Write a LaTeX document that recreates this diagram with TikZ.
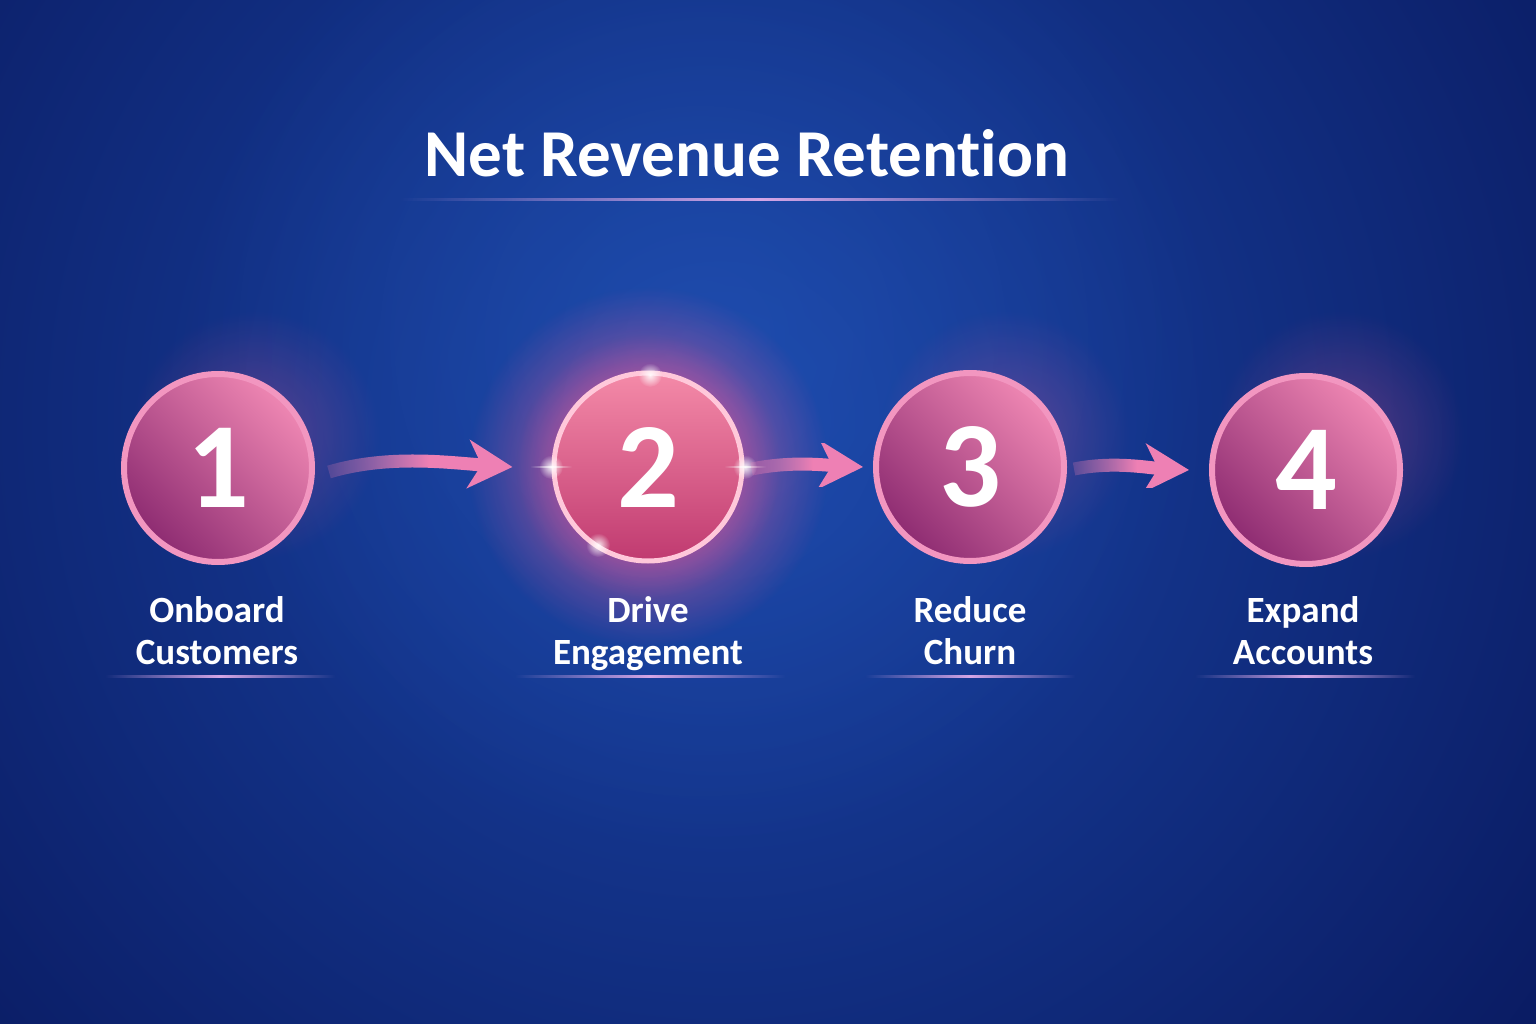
\documentclass[tikz,border=0pt]{standalone}
\usepackage{fontspec}
\setmainfont{Carlito}[Ligatures=NoCommon]
\usetikzlibrary{arrows.meta,fadings,shadings}
\definecolor{bgdark}{HTML}{08165A}
\definecolor{bgmid}{HTML}{1A45A6}
\definecolor{bgbright}{HTML}{2558BC}
\definecolor{balltop}{HTML}{EE86B2}
\definecolor{ballbot}{HTML}{8E2C72}
\definecolor{rim}{HTML}{F296C0}
\definecolor{hottop}{HTML}{F48AA8}
\definecolor{hotbot}{HTML}{C03A70}
\definecolor{hotrim}{HTML}{FFC8DA}
\definecolor{glowpink}{HTML}{FF5C9A}
\definecolor{arrowpink}{HTML}{EE80B4}
\definecolor{lilac}{HTML}{D6A6E6}
\tikzfading[name=softglow, inner color=transparent!0, outer color=transparent!100]
\tikzfading[name=fadesides, left color=transparent!100, right color=transparent!100, middle color=transparent!0]
\pgfdeclarehorizontalshading{tailshade}{100bp}{color(0bp)=(transparent!85); color(25bp)=(transparent!85); color(52bp)=(transparent!0); color(100bp)=(transparent!0)}
\pgfdeclarefading{fadetail}{\pgfuseshading{tailshade}}
\begin{document}
\begin{tikzpicture}[x=1pt,y=-1pt,
  ball/.style={circle, minimum size=188pt, inner sep=0pt, draw=rim, line width=6pt,
    top color=balltop, bottom color=ballbot, shading angle=-45, text=white,
    font=\fontsize{122}{122}\selectfont\bfseries},
  hotball/.style={ball, draw=hotrim, line width=5pt, top color=hottop, bottom color=hotbot},
  flow/.style={line width=13pt, draw=arrowpink, path fading=fadetail,
    -{Stealth[length=44pt, width=48pt, inset=13pt]}},
  steplabel/.style={text=white, font=\fontsize{37}{42}\selectfont\bfseries, align=center, anchor=base},
  titlestyle/.style={text=white, font=\fontsize{67}{80}\selectfont\bfseries, anchor=base},
  rule/.style={lilac, path fading=fadesides}
]
\useasboundingbox (0,0) rectangle (1536,1024);
\fill[bgdark] (0,0) rectangle (1536,1024);
\begin{scope}
  \clip (0,0) rectangle (1536,1024);
  \shade[inner color=bgmid, outer color=bgdark] (720,420) circle (1150);
  \fill[bgbright, opacity=0.45, path fading=softglow] (700,340) circle (520);
  % glows
  \fill[glowpink, opacity=0.85, path fading=softglow] (648,467) circle (180);
  \fill[glowpink, opacity=0.7, path fading=softglow] (648,467) circle (132);
  \fill[glowpink, opacity=0.3, path fading=softglow] (255,435) circle (125);
  \fill[glowpink, opacity=0.3, path fading=softglow] (1005,435) circle (125);
  \fill[glowpink, opacity=0.3, path fading=softglow] (1340,435) circle (125);
\end{scope}

% title
\node[titlestyle] (title) at (747,177) {Net Revenue Retention};
\fill[rule] (400,198.5) rectangle (1120,201.5);

% circles
\node[ball] (c1) at (218,468) {1};
\node[hotball] (c2) at (648,467) {2};
\node[ball] (c3) at (970,467) {3};
\node[ball] (c4) at (1306,470) {4};

% flares on circle 2
\foreach \p in {(551,467),(745,467),(650,375),(598,545)}{
  \fill[white, opacity=0.9, path fading=softglow] \p circle (12);
}
\fill[white, opacity=0.7, path fading=fadesides] (530,466) rectangle (572,468);
\fill[white, opacity=0.7, path fading=fadesides] (724,466) rectangle (766,468);

% arrows
\draw[flow] ([xshift=14pt,yshift=-4pt]c1.east) .. controls +(60,-18) and +(-60,-4) .. ([xshift=-39pt]c2.west);
\draw[flow] ([xshift=7pt,yshift=-2pt]c2.east) .. controls +(40,-8) and +(-40,-2) .. ([xshift=-10pt]c3.west);
\draw[flow] ([xshift=7pt,yshift=-2pt]c3.east) .. controls +(40,-8) and +(-40,-2) .. ([xshift=-20pt]c4.west);

% labels
\node[steplabel] (l1) at (217,664) {Onboard\\Customers};
\node[steplabel] (l2) at (648,664) {Drive\\Engagement};
\node[steplabel] (l3) at (970,664) {Reduce\\Churn};
\node[steplabel] (l4) at (1303,664) {Expand\\Accounts};
\fill[rule] (105,675) rectangle (335,677.5);
\fill[rule] (515,675) rectangle (785,677.5);
\fill[rule] (865,675) rectangle (1075,677.5);
\fill[rule] (1195,675) rectangle (1415,677.5);
\end{tikzpicture}
\end{document}
